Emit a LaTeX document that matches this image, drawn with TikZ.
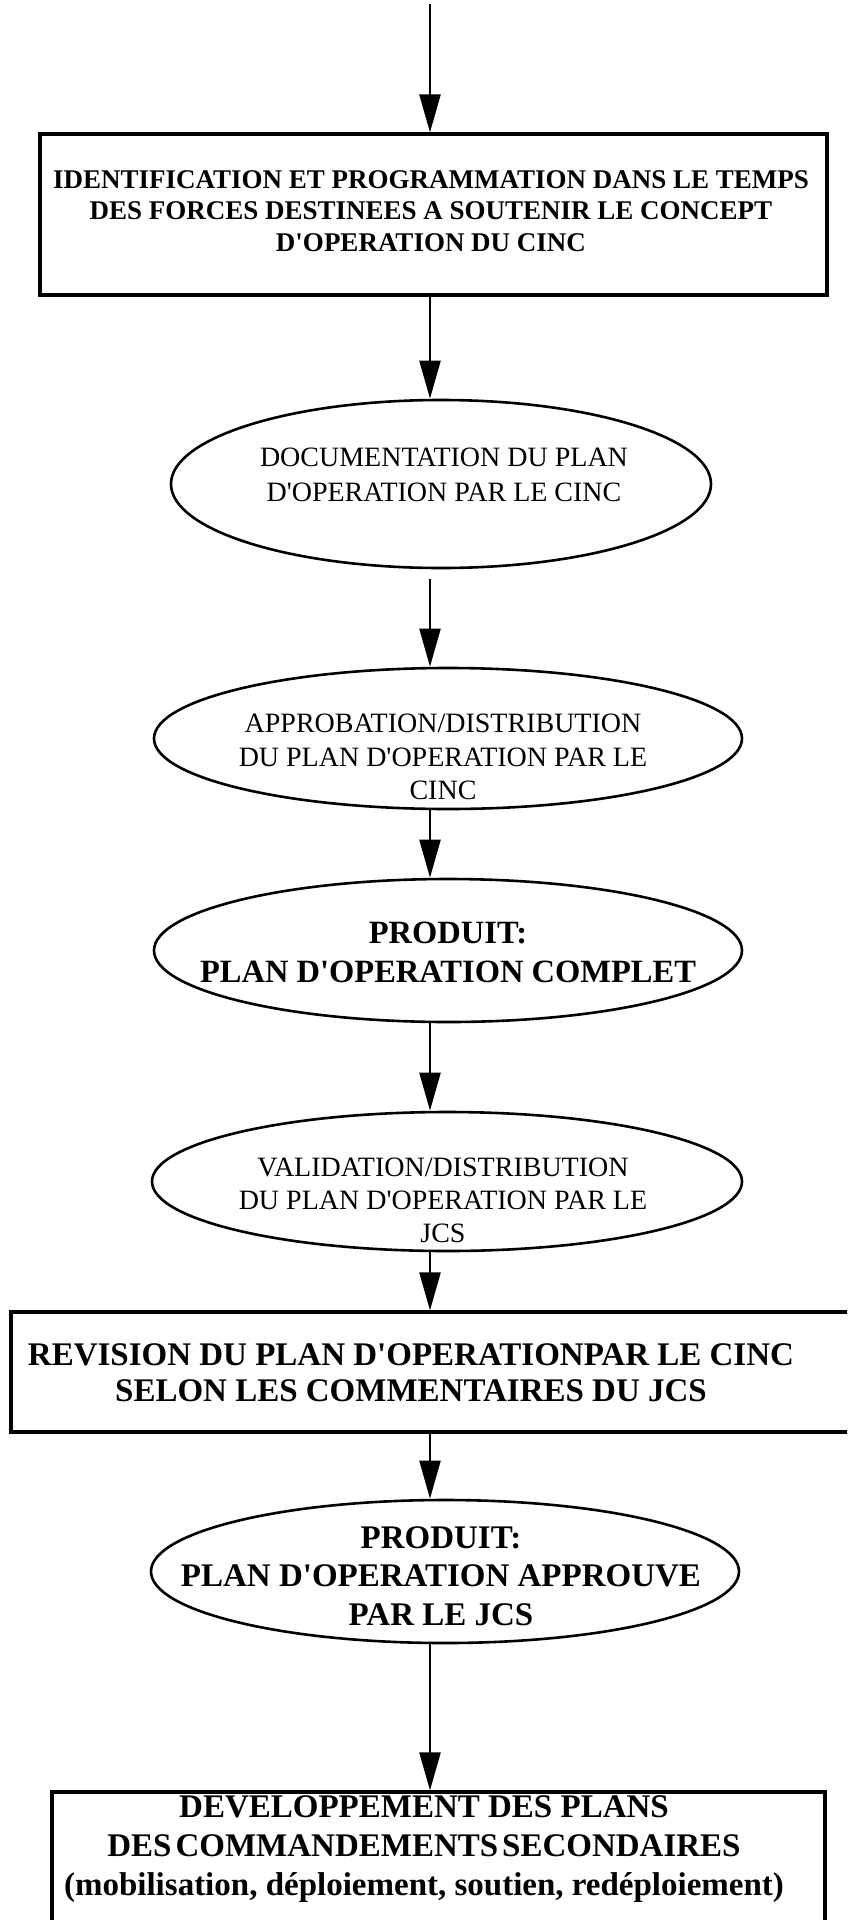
\documentclass[tikz,border=0pt]{standalone}
\usepackage{fontspec}
\setmainfont{Liberation Serif}
\usetikzlibrary{arrows.meta,shapes.geometric,calc}
\newcommand\apos{\textquotesingle}

\begin{document}
\begin{tikzpicture}[x=1pt,y=-1pt,
  boxframe/.style={draw, rectangle, line width=3.2pt, inner sep=0pt},
  oval/.style={draw, ellipse, line width=2.6pt, inner sep=0pt},
  flow/.style={line width=2.3pt, -{Triangle[length=38pt,width=21pt]}},
  lbl/.style={align=center, inner sep=0pt},
  plain/.style={lbl, font=\fontsize{28}{34}\selectfont},
  heavy/.style={lbl, font=\bfseries\fontsize{33}{38}\selectfont},
]
\useasboundingbox (0,0) rectangle (847,1920);
\clip (0,0) rectangle (847,1920);

% frames and ovals of the flow
\node[boxframe, minimum width=787pt, minimum height=161pt] (box1) at (433.5,214.5) {};
\node[oval, minimum width=540pt, minimum height=168pt] (e1) at (441,484) {};
\node[oval, minimum width=588pt, minimum height=141pt] (e2) at (448,738.5) {};
\node[oval, minimum width=588pt, minimum height=143pt] (e3) at (448,950.5) {};
\node[oval, minimum width=590pt, minimum height=139pt] (e4) at (447,1181.5) {};
\node[boxframe, minimum width=869pt, minimum height=120pt] (box2) at (445.5,1372) {};
\node[oval, minimum width=588pt, minimum height=143pt] (e5) at (445,1571.5) {};
\node[boxframe, minimum width=773pt, minimum height=150pt] (box3) at (438.5,1867) {};

% texts
\node[lbl, font=\bfseries\fontsize{27}{31.5}\selectfont] (t1) at (431,211)
  {IDENTIFICATION ET PROGRAMMATION DANS LE TEMPS\\
   DES FORCES DESTINEES A SOUTENIR LE CONCEPT\\
   D\apos OPERATION DU CINC};
\node[plain, font=\fontsize{28}{35}\selectfont] (t2) at (444,475)
  {DOCUMENTATION DU PLAN\\D\apos OPERATION PAR LE CINC};
\node[plain, font=\fontsize{28}{33.5}\selectfont] (t3) at (443,757)
  {APPROBATION/DISTRIBUTION\\DU PLAN D\apos OPERATION PAR LE\\CINC};
\node[lbl, font=\bfseries\fontsize{32.5}{39}\selectfont] (t4) at (448,952)
  {PRODUIT:\\PLAN D\apos OPERATION COMPLET};
\node[plain, font=\fontsize{28}{33}\selectfont] (t5) at (443,1200)
  {VALIDATION/DISTRIBUTION\\DU PLAN D\apos OPERATION PAR LE\\JCS};
\node[heavy, font=\bfseries\fontsize{33}{36}\selectfont] (t6) at (411,1373)
  {REVISION DU PLAN D\apos OPERATIONPAR LE CINC\\
   SELON LES COMMENTAIRES DU JCS};
\node[heavy, font=\bfseries\fontsize{33}{38.5}\selectfont] (t7) at (441,1576)
  {PRODUIT:\\PLAN D\apos OPERATION APPROUVE\\PAR LE JCS};
\node[heavy, font=\bfseries\fontsize{33}{39}\selectfont] (t8) at (424,1849)
  {DEVELOPPEMENT DES PLANS\\
   {\spaceskip=4pt plus 1pt DES COMMANDEMENTS SECONDAIRES}\\
   (mobilisation, déploiement, soutien, redéploiement)};

% vertical flow axis
\coordinate (src) at (430,4);

\draw[flow] (src) -- (box1.north -| src);
\draw[flow] (box1.south -| src) -- (e1.north -| src);
\draw[flow] ($(e1.south -| src)+(0,10)$) -- (e2.north -| src);
\draw[flow] (e2.south -| src) -- (e3.north -| src);
\draw[flow] (e3.south -| src) -- (e4.north -| src);
\draw[flow] (e4.south -| src) -- (box2.north -| src);
\draw[flow] (box2.south -| src) -- (e5.north -| src);
\draw[flow] (e5.south -| src) -- (box3.north -| src);
\end{tikzpicture}
\end{document}
